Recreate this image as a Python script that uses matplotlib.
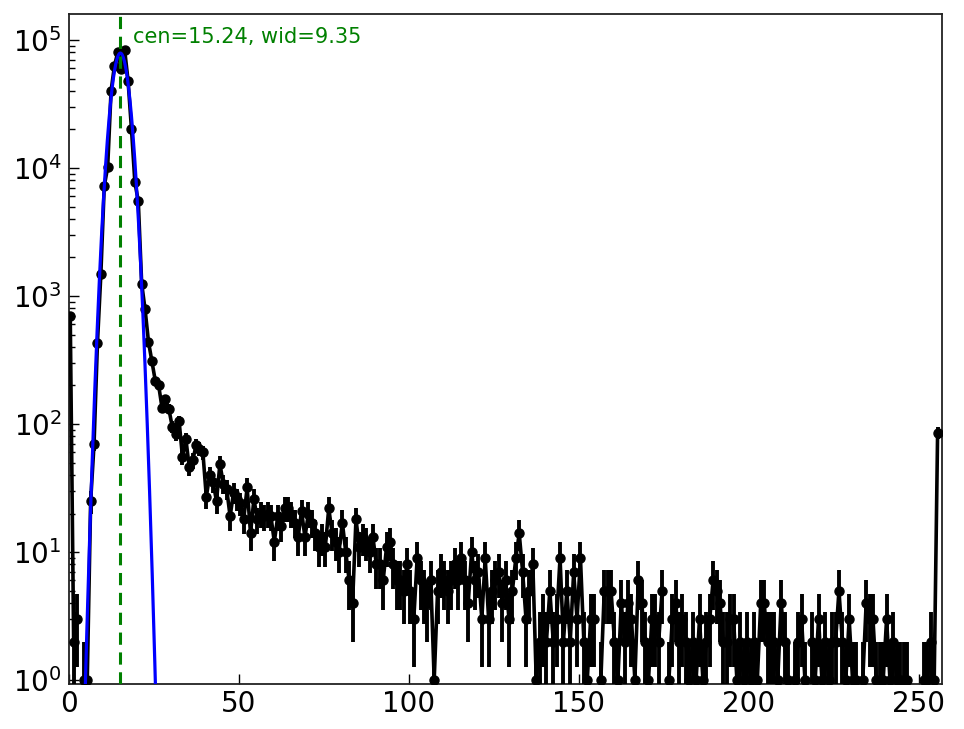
import matplotlib
matplotlib.use("Agg")
import matplotlib.pyplot as plt
import numpy as np

# histogram counts per pixel value (bins 0..255)
counts = [
    700, 2, 3, 0, 1, 1, 25, 70, 430, 1480,
    7250, 10100, 40000, 63000, 80600, 59000, 83500, 48000, 20200, 7740,
    5530, 1250, 787, 440, 310, 218, 200, 133, 157, 131,
    95, 83, 106, 55, 76, 46, 52, 68, 64, 60,
    27, 40, 35, 25, 49, 34, 31, 19, 29, 26,
    24, 18, 32, 14, 26, 18, 20, 19, 20, 19,
    12, 19, 16, 22, 22, 20, 17, 13, 21, 13,
    20, 17, 14, 11, 13, 11, 22, 14, 12, 10,
    17, 10, 6, 4, 18, 11, 13, 12, 10, 13,
    8, 8, 6, 11, 12, 8, 6, 6, 5, 8,
    5, 3, 9, 6, 5, 4, 6, 1, 5, 7,
    6, 5, 6, 8, 6, 9, 6, 4, 10, 6,
    7, 3, 9, 3, 5, 6, 7, 4, 6, 3,
    5, 9, 14, 7, 3, 5, 8, 1, 2, 3,
    2, 5, 2, 3, 9, 2, 5, 2, 7, 3,
    9, 2, 1, 3, 3, 0, 1, 5, 5, 5,
    2, 1, 4, 2, 4, 3, 1, 6, 4, 2,
    1, 3, 3, 2, 5, 0, 1, 3, 4, 2,
    3, 2, 1, 2, 1, 3, 1, 2, 3, 6,
    5, 4, 2, 2, 3, 3, 1, 2, 1, 2,
    1, 2, 1, 4, 4, 2, 2, 2, 1, 4,
    2, 1, 0, 1, 2, 3, 1, 0, 2, 1,
    3, 1, 2, 1, 2, 2, 5, 2, 1, 3,
    1, 1, 0, 1, 4, 3, 3, 1, 1, 1,
    3, 1, 2, 1, 1, 1, 1, 0, 0, 0,
    0, 1, 1, 2, 1, 85,
]

# gaussian fit parameters: amp * exp(-(x - cen)^2 / wid)
fit_amp = 7.9e4
fit_cen = 15.24
fit_wid = 9.35

counts = np.array(counts, dtype=float)
bin_centers = np.arange(len(counts)) + 0.5
errs = np.sqrt(counts)
y_plot = np.where(counts > 0, counts, np.nan)

fig = plt.figure(figsize=(9.64, 7.29), dpi=100)
ax = fig.add_axes([0.0711, 0.0624, 0.9061, 0.9186])

ax.errorbar(bin_centers, y_plot, yerr=errs, fmt="o-", color="black",
            ms=6.5, lw=2.6, elinewidth=2.8, capsize=0, zorder=3)

xfit = np.linspace(0, 257, 3000)
yfit = fit_amp * np.exp(-(xfit - fit_cen) ** 2 / fit_wid)
ax.plot(xfit, yfit, color="blue", lw=2.3, zorder=4)

ax.axvline(fit_cen, color="green", ls="--", lw=2.2, dashes=(4, 2.5), zorder=5)
ax.text(fit_cen + 3.6, 1.05e5, "cen=%.2f, wid=%.2f" % (fit_cen, fit_wid),
        color="green", fontsize=15, va="center", ha="left")

ax.set_yscale("log")
ax.set_xlim(0, 256.8)
ax.set_ylim(0.94, 1.6e5)
ax.set_xticks([0, 50, 100, 150, 200, 250])

ax.tick_params(axis="both", which="both", direction="in", top=False, right=False,
               labelsize=20, pad=5)
ax.tick_params(which="major", length=7, width=1)
ax.tick_params(which="minor", length=4, width=1)
for s in ax.spines.values():
    s.set_linewidth(1.3)
    s.set_color("#222222")

fig.savefig("out.png", dpi=100)
